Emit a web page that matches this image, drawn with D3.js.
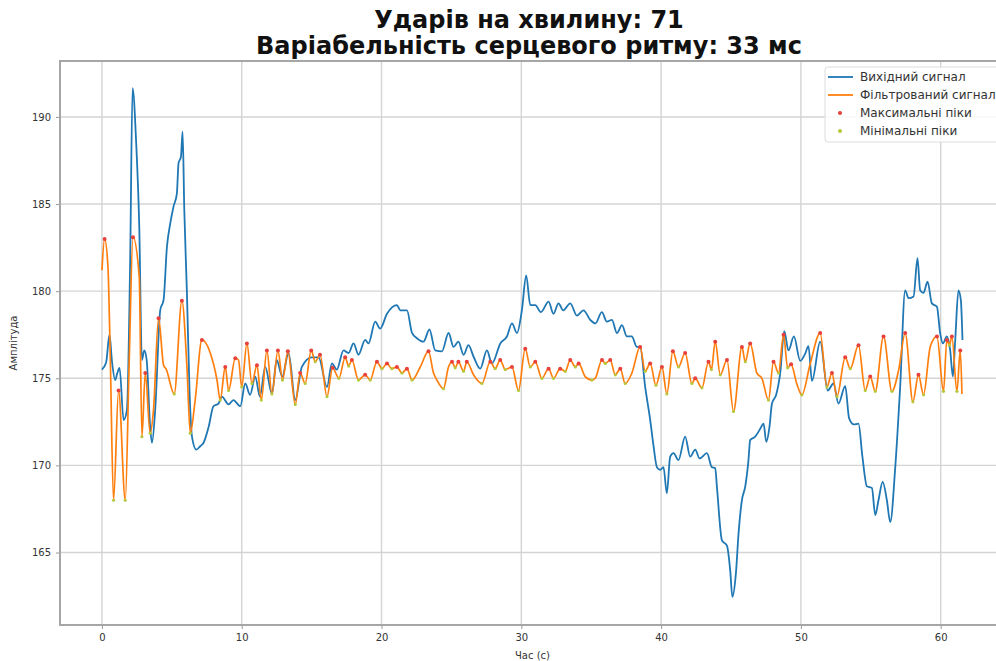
<!DOCTYPE html>
<html>
<head>
<meta charset="utf-8">
<script src="https://cdn.jsdelivr.net/npm/d3@7"></script>
<style>
  body { margin: 0; background: #fff; }
  svg { display: block; font-family: "DejaVu Sans", sans-serif; }
</style>
</head>
<body>
<svg id="chart" width="996" height="661"></svg>
<script>
const titleLines = ["Ударів на хвилину: 71", "Варіабельність серцевого ритму: 33 мс"];
const xLabel = "Час (с)";
const yLabel = "Амплітуда";
const xTicks = [0, 10, 20, 30, 40, 50, 60];
const yTicks = [165, 170, 175, 180, 185, 190];
const legendLabels = ["Вихідний сигнал", "Фільтрований сигнал", "Максимальні піки", "Мінімальні піки"];

// raw signal (seconds, amplitude)
const rawTime = [0.0, 0.3, 0.54, 0.72, 0.95, 1.1, 1.26, 1.55, 1.79, 2.02, 2.19, 2.45, 2.67, 2.86, 3.03, 3.2, 3.45, 3.58, 3.81, 4.17,
  4.41, 4.65, 4.89, 5.12, 5.36, 5.48, 5.65, 5.77, 5.89, 6.08, 6.27, 6.44, 6.75, 7.03, 7.27, 7.63, 7.98, 8.34, 8.58, 9.06,
  9.4, 9.9, 10.25, 10.6, 10.97, 11.3, 11.68, 12.16, 12.5, 12.9, 13.35, 13.83, 14.3, 15.0, 15.5, 16.1, 16.45, 16.8, 17.28, 17.64,
  18.0, 18.35, 18.83, 19.07, 19.55, 19.9, 20.39, 21.1, 21.34, 21.82, 22.18, 22.53, 23.0, 23.43, 23.84, 24.32, 24.8, 25.15, 25.5, 25.87,
  26.22, 26.58, 27.06, 27.54, 27.9, 28.5, 28.97, 29.33, 29.69, 30.04, 30.35, 30.64, 31.0, 31.4, 31.95, 32.3, 32.66, 33.0, 33.5, 33.98,
  34.45, 34.93, 35.3, 35.76, 36.12, 36.48, 36.84, 37.2, 37.55, 37.9, 38.27, 38.5, 38.86, 39.22, 39.46, 39.7, 39.94, 40.17, 40.41, 40.65,
  40.89, 41.24, 41.72, 42.08, 42.44, 42.75, 43.28, 43.63, 43.87, 43.99, 44.35, 44.71, 44.94, 45.1, 45.35, 45.54, 45.78, 46.02, 46.25, 46.37,
  46.73, 47.09, 47.33, 47.52, 47.75, 47.93, 48.23, 48.52, 48.81, 49.11, 49.5, 49.95, 50.3, 50.54, 50.79, 51.38, 51.92, 52.33, 52.69, 53.17,
  53.45, 53.8, 54.12, 54.4, 54.72, 55.08, 55.32, 55.55, 55.85, 56.15, 56.39, 56.75, 57.1, 57.46, 57.7, 58.06, 58.34, 58.53, 58.77, 59.06,
  59.37, 59.73, 59.96, 60.16, 60.44, 60.68, 60.87, 61.04, 61.27, 61.44, 61.56];
const rawAmp = [175.5, 175.9, 177.5, 175.95, 174.9, 175.3, 175.6, 172.6, 173.2, 181.8, 191.65, 188.5, 183.7, 176.05, 176.6, 176.05, 172.2, 171.3, 173.2, 178.9,
  179.5, 182.55, 183.9, 184.85, 185.6, 187.35, 187.7, 189.15, 184.7, 179.9, 174.15, 171.65, 170.9, 171.1, 171.3, 172.2, 173.4, 173.55, 173.95, 173.5,
  173.75, 173.4, 174.7, 174.05, 175.1, 173.95, 175.65, 174.1, 176.05, 175.1, 176.45, 173.75, 175.65, 176.2, 176.2, 174.5, 175.85, 175.5, 176.6, 176.45,
  177.0, 176.35, 177.2, 177.0, 178.25, 177.85, 178.7, 179.2, 178.9, 178.9, 177.6, 177.3, 177.1, 177.8, 176.6, 176.55, 177.6, 176.8, 177.1, 176.35,
  176.9, 176.25, 175.55, 176.6, 175.85, 177.0, 177.4, 178.15, 177.6, 178.9, 180.9, 179.2, 179.2, 178.8, 179.4, 178.7, 179.3, 178.9, 179.3, 178.6,
  178.9, 178.35, 178.15, 178.8, 178.25, 178.35, 177.6, 178.05, 177.4, 177.4, 176.8, 176.8, 174.5, 172.6, 171.1, 169.9, 169.75, 169.9, 168.4, 170.5,
  170.7, 170.3, 171.65, 170.5, 170.9, 170.4, 170.7, 169.9, 169.85, 168.8, 165.7, 165.4, 164.0, 162.45, 163.8, 166.1, 168.0, 168.8, 170.3, 171.45,
  171.65, 172.1, 172.4, 171.35, 172.2, 173.55, 174.05, 175.3, 177.7, 176.6, 177.4, 176.0, 176.4, 176.85, 174.85, 177.1, 174.3, 174.7, 173.55, 174.55,
  172.7, 172.35, 172.4, 170.5, 168.8, 168.7, 167.15, 168.0, 169.05, 168.0, 166.75, 169.9, 174.5, 180.05, 179.6, 179.7, 181.9, 180.05, 179.9, 180.55,
  179.3, 179.1, 177.6, 177.0, 177.4, 176.6, 175.1, 177.2, 180.05, 179.5, 177.2];

// filtered signal (seconds, amplitude)
const filtTime = [0.0, 0.19, 0.43, 0.6, 0.83, 1.19, 1.67, 1.95, 2.22, 2.67, 2.86, 3.1, 3.45, 3.69, 4.05, 4.41, 4.58, 5.17, 5.72, 6.08,
  6.32, 6.67, 7.15, 7.75, 8.23, 8.46, 8.82, 9.06, 9.54, 9.77, 10.0, 10.37, 10.73, 11.09, 11.4, 11.8, 12.16, 12.59, 12.92, 13.3,
  13.83, 14.18, 14.54, 14.97, 15.26, 15.6, 16.1, 16.5, 16.95, 17.4, 17.65, 17.88, 18.35, 18.83, 19.19, 19.67, 20.03, 20.39, 20.74, 21.1,
  21.46, 21.82, 22.18, 22.77, 23.36, 23.72, 23.96, 24.43, 24.79, 25.04, 25.27, 25.5, 25.87, 26.1, 26.58, 27.18, 27.78, 28.13, 28.49, 28.85,
  29.33, 29.8, 30.28, 30.64, 31.0, 31.47, 31.95, 32.3, 32.78, 33.14, 33.5, 33.86, 34.1, 34.57, 35.05, 35.29, 35.77, 36.0, 36.36, 36.72,
  37.08, 37.43, 37.91, 38.5, 38.86, 39.22, 39.63, 40.06, 40.41, 40.84, 41.24, 41.72, 42.2, 42.44, 42.92, 43.39, 43.6, 43.87, 44.23, 44.71,
  45.18, 45.78, 46.02, 46.37, 46.85, 47.21, 47.68, 48.04, 48.4, 48.76, 49.05, 49.3, 49.7, 50.07, 50.67, 51.38, 51.86, 52.22, 52.58, 53.17,
  53.53, 54.12, 54.6, 54.96, 55.32, 55.91, 56.51, 57.0, 57.46, 58.01, 58.41, 58.77, 59.25, 59.73, 60.2, 60.44, 60.62, 60.8, 61.16, 61.4,
  61.52];
const filtAmp = [181.2, 183.0, 181.4, 176.05, 168.0, 174.3, 168.0, 176.0, 183.1, 180.8, 171.65, 175.3, 171.85, 173.2, 178.45, 175.75, 175.55, 174.1, 179.45, 175.65,
  171.85, 173.75, 177.2, 176.45, 174.9, 173.75, 175.65, 174.3, 176.15, 176.05, 174.5, 177.0, 174.7, 175.75, 173.75, 176.6, 174.1, 176.6, 174.9, 176.55,
  173.5, 175.3, 174.7, 176.6, 175.95, 176.35, 173.95, 175.6, 175.0, 176.2, 175.7, 176.05, 174.9, 175.2, 174.9, 175.95, 175.55, 175.85, 175.55, 175.65,
  175.3, 175.55, 174.9, 175.65, 176.55, 175.3, 174.9, 174.4, 175.65, 175.95, 175.6, 175.95, 175.4, 175.95, 175.2, 174.7, 175.95, 175.55, 176.05, 175.5,
  175.65, 174.3, 176.7, 175.65, 175.95, 175.0, 175.55, 175.0, 175.55, 175.4, 176.05, 175.65, 175.85, 175.1, 174.9, 175.0, 176.05, 175.85, 176.05, 175.2,
  175.55, 174.7, 175.3, 176.8, 175.4, 175.85, 174.6, 175.65, 174.1, 176.55, 175.65, 176.45, 174.7, 175.0, 174.45, 175.95, 175.5, 177.1, 175.2, 176.05,
  173.1, 176.8, 175.95, 177.0, 175.3, 175.0, 173.75, 175.95, 175.3, 177.5, 175.6, 175.8, 174.7, 174.05, 175.85, 177.6, 174.5, 175.3, 173.95, 176.2,
  175.55, 176.9, 174.3, 175.1, 174.25, 177.4, 174.25, 175.5, 177.6, 173.65, 175.2, 174.05, 176.8, 177.4, 174.25, 177.2, 176.9, 177.4, 174.25, 176.6,
  174.1];

const width = 996, height = 661;
const margin = { top: 61, right: -9, bottom: 36, left: 60 };
const svg = d3.select("#chart");

const x = d3.scaleLinear().domain([-3.0, 64.6]).range([margin.left, width - margin.right]);
const y = d3.scaleLinear().domain([160.84, 193.21]).range([height - margin.bottom, margin.top]);

const raw = rawTime.map((t, i) => ({ t: t, v: rawAmp[i] }));
const filt = filtTime.map((t, i) => ({ t: t, v: filtAmp[i] }));

// local extremes of the filtered signal
const maxPeaks = filt.filter((d, i) => i > 0 && i < filt.length - 1 && d.v > filt[i - 1].v && d.v > filt[i + 1].v);
const minPeaks = filt.filter((d, i) => i > 0 && i < filt.length - 1 && d.v < filt[i - 1].v && d.v < filt[i + 1].v);

// grid
svg.append("g")
  .selectAll("line.gx")
  .data(xTicks)
  .join("line")
  .attr("x1", d => x(d)).attr("x2", d => x(d))
  .attr("y1", margin.top).attr("y2", height - margin.bottom)
  .attr("stroke", "#d4d4d4").attr("stroke-width", 1.4);
svg.append("g")
  .selectAll("line.gy")
  .data(yTicks)
  .join("line")
  .attr("y1", d => y(d)).attr("y2", d => y(d))
  .attr("x1", margin.left).attr("x2", width - margin.right)
  .attr("stroke", "#d4d4d4").attr("stroke-width", 1.4);

svg.append("clipPath").attr("id", "plotclip")
  .append("rect")
  .attr("x", margin.left).attr("y", margin.top)
  .attr("width", width - margin.right - margin.left)
  .attr("height", height - margin.bottom - margin.top);

const plot = svg.append("g").attr("clip-path", "url(#plotclip)");

const line = d3.line()
  .x(d => x(d.t))
  .y(d => y(d.v))
  .curve(d3.curveMonotoneX);

plot.append("path")
  .datum(raw)
  .attr("d", line)
  .attr("fill", "none")
  .attr("stroke", "#1f77b4")
  .attr("stroke-width", 1.8);

plot.append("path")
  .datum(filt)
  .attr("d", line)
  .attr("fill", "none")
  .attr("stroke", "#ff7f0e")
  .attr("stroke-width", 1.7);

plot.append("g")
  .selectAll("circle")
  .data(maxPeaks)
  .join("circle")
  .attr("cx", d => x(d.t)).attr("cy", d => y(d.v))
  .attr("r", 2)
  .attr("fill", "#e8403a");

plot.append("g")
  .selectAll("circle")
  .data(minPeaks)
  .join("circle")
  .attr("cx", d => x(d.t)).attr("cy", d => y(d.v))
  .attr("r", 1.6)
  .attr("fill", "#b8c83a");

// axes
const xAxis = svg.append("g")
  .attr("transform", `translate(0,${height - margin.bottom})`)
  .call(d3.axisBottom(x).tickValues(xTicks).tickSize(4).tickPadding(5).tickFormat(d3.format("d")));
const yAxis = svg.append("g")
  .attr("transform", `translate(${margin.left},0)`)
  .call(d3.axisLeft(y).tickValues(yTicks).tickSize(4).tickPadding(5).tickFormat(d3.format("d")));

[xAxis, yAxis].forEach(ax => {
  ax.select(".domain").remove();
  ax.selectAll(".tick line").attr("stroke", "#999");
  ax.selectAll(".tick text")
    .attr("fill", "#333")
    .style("font-size", "10px")
    .style("font-family", "DejaVu Sans, sans-serif");
});

// frame
svg.append("rect")
  .attr("x", margin.left).attr("y", margin.top)
  .attr("width", width - margin.right - margin.left)
  .attr("height", height - margin.bottom - margin.top)
  .attr("fill", "none")
  .attr("stroke", "#a6a6a6")
  .attr("stroke-width", 2);

// axis labels
svg.append("text")
  .attr("x", (margin.left + width - margin.right) / 2)
  .attr("y", 659)
  .attr("text-anchor", "middle")
  .attr("fill", "#333")
  .style("font-size", "10px")
  .text(xLabel);

svg.append("text")
  .attr("transform", `translate(17,${(margin.top + height - margin.bottom) / 2}) rotate(-90)`)
  .attr("text-anchor", "middle")
  .attr("fill", "#333")
  .style("font-size", "10px")
  .text(yLabel);

// title
svg.append("g")
  .selectAll("text")
  .data(titleLines)
  .join("text")
  .attr("x", 529)
  .attr("y", (d, i) => 28 + i * 26)
  .attr("text-anchor", "middle")
  .attr("fill", "#111")
  .style("font-size", "24px")
  .style("font-weight", "bold")
  .text(d => d);

// legend
const legend = svg.append("g").attr("transform", "translate(825,67)");
legend.append("rect")
  .attr("width", 190).attr("height", 75)
  .attr("rx", 3)
  .attr("fill", "#fff").attr("fill-opacity", 0.85)
  .attr("stroke", "#dcdcdc");

const legendItems = legend.selectAll("g.item")
  .data(legendLabels)
  .join("g")
  .attr("class", "item")
  .attr("transform", (d, i) => `translate(0,${10 + i * 18})`);

legendItems.filter((d, i) => i < 2)
  .append("line")
  .attr("x1", 3).attr("x2", 28)
  .attr("stroke", (d, i) => i === 0 ? "#1f77b4" : "#ff7f0e")
  .attr("stroke-width", 1.8);

legendItems.filter((d, i) => i >= 2)
  .append("circle")
  .attr("cx", 15)
  .attr("r", 2)
  .attr("fill", (d, i) => i === 0 ? "#e8403a" : "#b8c83a");

legendItems.append("text")
  .attr("x", 35)
  .attr("dy", "0.35em")
  .attr("fill", "#333")
  .style("font-size", "12px")
  .text(d => d);
</script>
</body>
</html>
